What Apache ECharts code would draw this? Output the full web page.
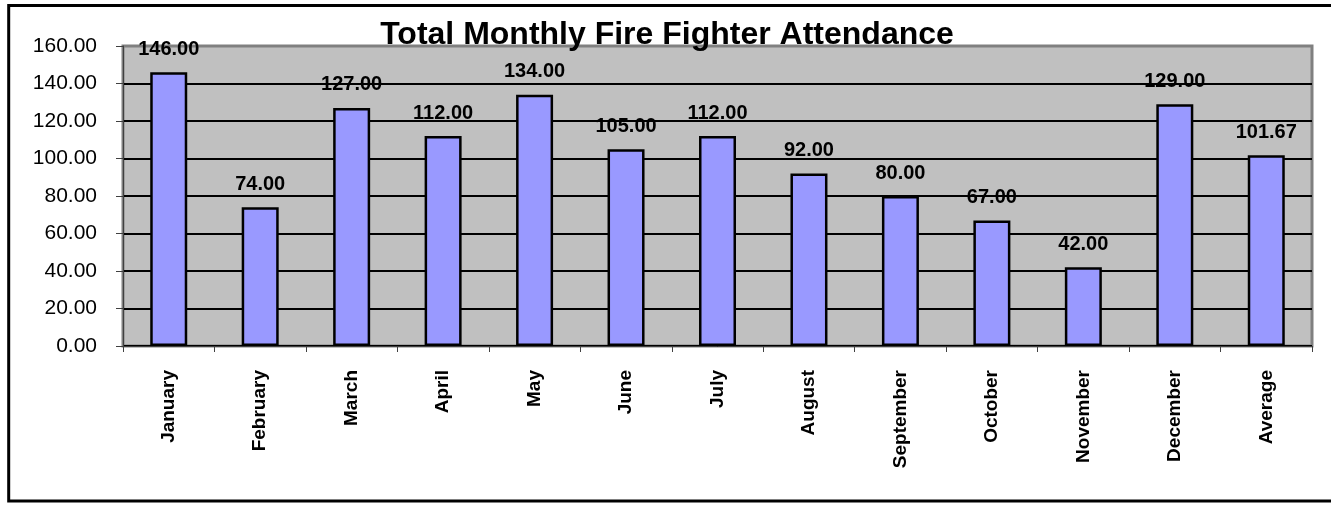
<!DOCTYPE html>
<html>
<head>
<meta charset="utf-8">
<script src="https://cdn.jsdelivr.net/npm/echarts@6/dist/echarts.min.js"></script>
<style>
html,body{margin:0;padding:0;background:#fff;}
#c{width:1331px;height:506px;}
</style>
</head>
<body>
<div id="c"></div>
<script>
var titleText = 'Total Monthly Fire Fighter Attendance';
var categories = ['January','February','March','April','May','June','July','August','September','October','November','December','Average'];
var attendance = [146, 74, 127, 112, 134, 105, 112, 92, 80, 67, 42, 129, 101.67];
var yTicks = [0, 20, 40, 60, 80, 100, 120, 140, 160];

var FONT = "'Liberation Sans', Arial, sans-serif";
var gridColors = yTicks.map(function(v, i){ return i === yTicks.length - 1 ? '#808080' : '#000000'; });
var chart = echarts.init(document.getElementById('c'), null, {renderer:'canvas'});
chart.setOption({
  animation:false,
  backgroundColor:'#ffffff',
  title:{
    text:titleText,
    left:662, top:14, textAlign:'center',
    textStyle:{fontFamily:FONT, fontWeight:'bold', fontSize:32, color:'#000'}
  },
  graphic:[{
    type:'rect', z:100, silent:true,
    shape:{x:8.7, y:5.5, width:1400, height:495.5},
    style:{fill:'none', stroke:'#000', lineWidth:3}
  }],
  grid:{
    left:123, right:19, top:46, bottom:160,
    show:true, backgroundColor:'#C0C0C0', borderColor:'#808080', borderWidth:3
  },
  xAxis:{
    type:'category', data:categories,
    axisLine:{show:true, lineStyle:{color:'#404040', width:1}},
    axisTick:{show:true, alignWithLabel:false, length:6, lineStyle:{color:'#404040'}},
    axisLabel:{rotate:90, margin:24, interval:0, fontFamily:FONT, fontWeight:'bold', fontSize:19, color:'#000'}
  },
  yAxis:{
    type:'value', min:yTicks[0], max:yTicks[yTicks.length-1], interval:20,
    axisLine:{show:true, lineStyle:{color:'#404040', width:1}},
    axisTick:{show:true, length:7, lineStyle:{color:'#404040'}},
    axisLabel:{margin:26, fontFamily:FONT, fontSize:21, color:'#000', formatter:function(v){return v.toFixed(2);}},
    splitLine:{show:true, lineStyle:{color:gridColors, width:2}}
  },
  series:[{
    type:'bar', data:attendance, barWidth:37,
    itemStyle:{color:'#9999FF', borderColor:'#000', borderWidth:2.5},
    label:{show:true, position:'top', distance:13, fontFamily:FONT, fontWeight:'bold', fontSize:20, color:'#000',
      formatter:function(p){return p.value.toFixed(2);}}
  }]
});
</script>
</body>
</html>
